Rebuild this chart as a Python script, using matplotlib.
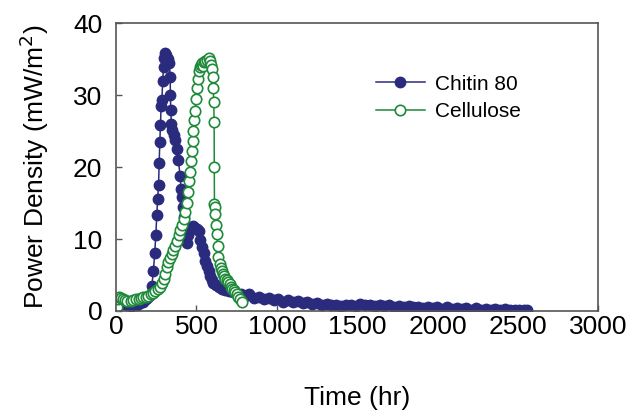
import numpy as np
import matplotlib
matplotlib.use("Agg")
import matplotlib.pyplot as plt

plt.rcParams["font.family"] = ["Liberation Sans", "DejaVu Sans"]

NAVY = "#2B2B7E"
GREEN = "#1E8A3A"
AXIS = "#555555"

# Chitin 80 (filled markers)
chitin_t = [0, 10, 20, 35, 50, 70, 90, 110, 130, 150, 170, 185, 200, 212, 222, 232,
            240, 247, 253, 258, 264, 268, 272, 276, 280, 285, 290, 295, 300, 305, 312,
            318, 326, 332, 336, 338, 340, 344, 350, 358, 367, 378, 388, 398, 404, 409,
            416, 423, 430, 436, 442, 450, 460, 470, 481, 492, 503, 513, 523, 533, 544,
            555, 565, 575, 585, 596, 606, 620, 640, 660, 680, 700, 725, 750, 775, 800,
            830, 860, 890, 920, 950, 980, 1010, 1040, 1070, 1100, 1130, 1160, 1190, 1220,
            1250, 1280, 1310, 1340, 1370, 1400, 1430, 1460, 1490, 1520, 1550, 1580, 1610,
            1640, 1670, 1700, 1730, 1760, 1790, 1820, 1850, 1880, 1910, 1940, 1970, 2000,
            2030, 2060, 2090, 2120, 2150, 2180, 2210, 2240, 2270, 2300, 2330, 2360, 2390,
            2420, 2450, 2480, 2510, 2540, 2560]
chitin_p = [0.8, 1.2, 1.4, 1.3, 1.0, 0.8, 0.7, 0.8, 0.9, 1.1, 1.3, 1.6, 1.9, 2.2, 3.5, 5.5,
            8.0, 10.5, 13.3, 15.5, 17.5, 20.5, 23.5, 25.8, 28.5, 29.3, 32.0, 33.9, 35.2, 35.8, 35.6,
            35.2, 35.0, 34.4, 32.5, 30.0, 27.9, 26.0, 25.1, 24.5, 23.7, 22.5, 21.0, 18.7, 17.0, 15.8,
            14.5, 13.0, 11.7, 10.3, 9.4, 10.5, 11.2, 11.6, 11.8, 11.6, 11.4, 11.1, 9.9, 8.9, 8.0,
            7.0, 6.2, 5.5, 4.8, 4.3, 3.9, 3.6, 3.3, 3.1, 2.9, 2.8, 2.6, 2.4, 2.3, 2.1,
            2.3, 1.8, 2.0, 1.6, 1.8, 1.5, 1.6, 1.3, 1.5, 1.2, 1.4, 1.1, 1.2, 1.0,
            1.1, 0.9, 1.0, 0.8, 0.9, 0.7, 0.8, 0.9, 0.7, 1.0, 0.8, 0.9, 0.7,
            0.9, 0.7, 0.8, 0.6, 0.7, 0.5, 0.7, 0.5, 0.6, 0.4, 0.6, 0.4, 0.5,
            0.3, 0.5, 0.3, 0.4, 0.3, 0.4, 0.2, 0.4, 0.2, 0.3, 0.2, 0.3, 0.1,
            0.3, 0.1, 0.2, 0.1, 0.2, 0.1]

# Cellulose (open markers)
cell_t = [0, 5, 10, 20, 30, 45, 55, 70, 90, 108, 125, 140, 155, 170, 185, 200, 215, 230,
          245, 260, 274, 285, 295, 305, 316, 325, 335, 347, 357, 368, 378, 390, 400, 409,
          420, 430, 440, 450, 456, 461, 466, 471, 476, 481, 487, 492, 497, 502, 508, 513,
          520, 527, 533, 540, 548, 556, 565, 575, 585, 590, 596, 600, 604, 608, 610, 611,
          612, 615, 618, 622, 627, 632, 637, 645, 652, 658, 665, 672, 680, 689, 698, 707,
          715, 723, 731, 740, 750, 760, 770, 783]
cell_p = [0.0, 0.5, 1.6, 1.9, 1.8, 1.6, 1.5, 1.4, 1.4, 1.5, 1.6, 1.7, 1.8, 1.9, 2.0, 2.1, 2.3, 2.5,
          2.8, 3.0, 3.4, 3.9, 4.4, 5.2, 6.1, 6.8, 7.3, 7.9, 8.5, 9.1, 9.7, 10.5, 11.3, 12.0,
          12.8, 13.8, 15.0, 16.6, 18.0, 19.3, 20.8, 22.2, 23.6, 25.0, 26.5, 27.8, 29.5, 31.0, 32.3, 33.3,
          33.9, 34.2, 34.4, 34.0, 34.6, 34.8, 34.9, 35.1, 34.7, 34.2, 33.6, 32.5, 31.0, 29.0, 26.2, 20.0,
          14.9, 14.5, 13.5, 12.0, 10.7, 9.0, 7.5, 6.5, 6.0, 5.6, 5.1, 4.8, 4.5, 4.3, 4.0, 3.7,
          3.4, 3.1, 2.9, 2.6, 2.3, 2.0, 1.7, 1.3]

fig = plt.figure(figsize=(6.31, 4.13), dpi=100)
ax = fig.add_axes([0.184, 0.247, 0.764, 0.697])

ax.plot(chitin_t, chitin_p, color=NAVY, lw=1.1, marker="o", ms=7.5,
        mfc=NAVY, mec=NAVY, label="Chitin 80")
ax.plot(cell_t, cell_p, color=GREEN, lw=1.1, marker="o", ms=7.5,
        mfc="white", mec=GREEN, mew=1.2, label="Cellulose")

ax.set_xlim(0, 3000)
ax.set_ylim(0, 40)
ax.set_xticks(np.arange(0, 3001, 500))
ax.set_yticks(np.arange(0, 41, 10))
ax.tick_params(direction="in", length=4, width=1, color=AXIS, labelsize=19)
ax.tick_params(axis="x", pad=3)
ax.tick_params(axis="y", pad=10)
for s in ax.spines.values():
    s.set_color(AXIS)
    s.set_linewidth(1.2)

ax.set_xlabel("Time (hr)", fontsize=19, labelpad=34)
ax.set_ylabel("Power Density (mW/m$^2$)", fontsize=19, labelpad=16)

ax.legend(loc="upper left", bbox_to_anchor=(0.5, 0.886), frameon=False, fontsize=15,
          handlelength=2.35, handletextpad=0.5, labelspacing=0.4)

fig.savefig("out.png", dpi=100)
